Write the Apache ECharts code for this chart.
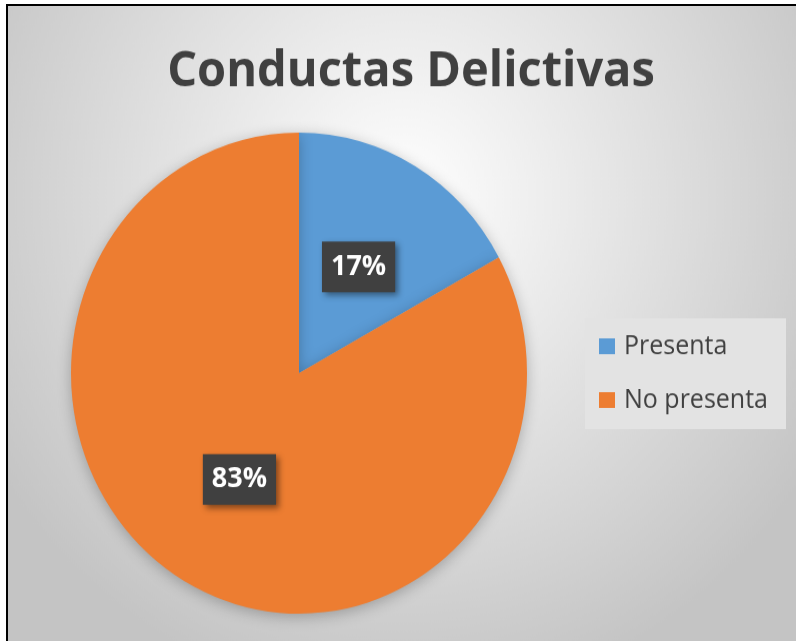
<!DOCTYPE html>
<html>
<head>
<meta charset="utf-8">
<script src="https://cdn.jsdelivr.net/npm/echarts@6/dist/echarts.min.js"></script>
<style>
  html, body { margin: 0; padding: 0; background: #fff; overflow: hidden; }
  #frame {
    position: absolute; left: 6px; top: 4px;
    width: 790px; height: 637px; overflow: hidden;
    border-left: 2px solid #000; border-top: 2px solid #000;
  }
  /* reference picture is stretched vertically a little, so the chart is too */
  #chart { width: 790px; height: 604px; transform: scaleY(1.055); transform-origin: 0 0; }
</style>
</head>
<body>
<div id="frame"><div id="chart"></div></div>
<script>
const categories = ["Presenta", "No presenta"];
const values = [17, 83];
const colors = ["#5B9BD5", "#ED7D31"];

const chart = echarts.init(document.getElementById("chart"));

chart.setOption({
  backgroundColor: {
    type: "radial", x: 0.5, y: 0.3, r: 0.8,
    colorStops: [
      { offset: 0, color: "#ffffff" },
      { offset: 1, color: "#c4c4c4" }
    ]
  },
  title: {
    text: "Conductas Delictivas",
    left: 398, top: 34, textAlign: "center",
    textStyle: { fontFamily: "Open Sans", fontWeight: "bold", fontSize: 47, color: "#404040" }
  },
  legend: {
    orient: "vertical",
    left: 577, top: 296,
    data: categories,
    icon: "rect",
    itemWidth: 16, itemHeight: 15,
    itemGap: 26,
    padding: [14, 18, 15, 14],
    backgroundColor: "#e3e3e3",
    textStyle: { fontFamily: "Open Sans", fontSize: 25, color: "#404040", padding: [0, 0, 0, 4] }
  },
  series: [
    {
      type: "pie",
      center: [291, 348],
      radius: 228,
      startAngle: 90,
      clockwise: true,
      silent: true,
      itemStyle: { shadowBlur: 14, shadowColor: "rgba(0,0,0,0.25)", shadowOffsetY: 3 },
      label: {
        position: "inside",
        formatter: "{d}%",
        color: "#fff",
        fontFamily: "Open Sans",
        fontWeight: "bold",
        fontSize: 27,
        backgroundColor: "#404040",
        padding: [11, 9, 10, 9],
        shadowBlur: 6,
        shadowColor: "rgba(0,0,0,0.45)",
        shadowOffsetX: 3,
        shadowOffsetY: 3
      },
      labelLine: { show: false },
      data: categories.map((name, i) => ({ name, value: values[i], itemStyle: { color: colors[i] } }))
    }
  ]
});
</script>
</body>
</html>
